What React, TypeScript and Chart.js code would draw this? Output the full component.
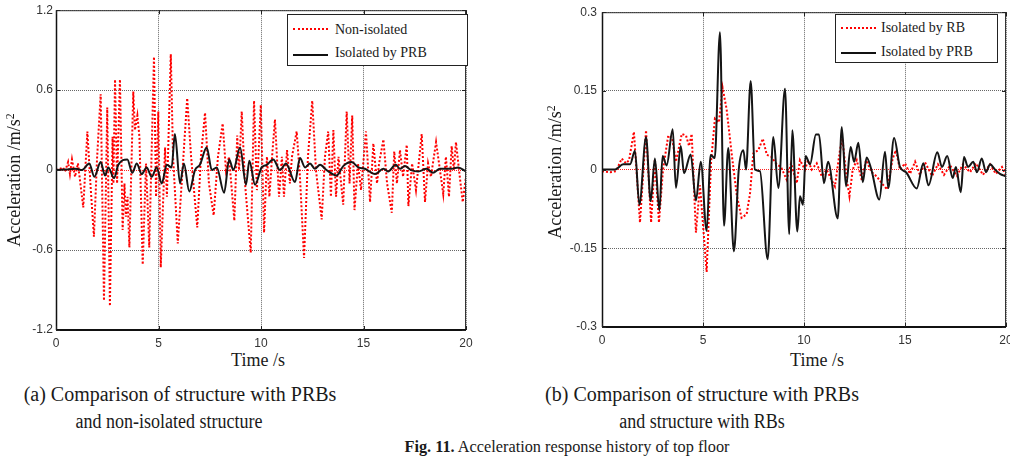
import React, { useEffect, useRef } from "react";
import { Chart, registerables } from "chart.js";

Chart.register(...registerables);

// ---------- data ----------
const timeTicks = [0, 5, 10, 15, 20];
const timeTickLabels = ["0", "5", "10", "15", "20"];

const accTicksA = [-1.2, -0.6, 0, 0.6, 1.2];
const accTickLabelsA = ["-1.2", "-0.6", "0", "0.6", "1.2"];
const accTicksB = [-0.3, -0.15, 0, 0.15, 0.3];
const accTickLabelsB = ["-0.3", "-0.15", "0", "0.15", "0.3"];

// (a) Non-isolated
const nonIsoT = [0, 0.2, 0.34, 0.44, 0.59, 0.68, 0.78, 0.93, 1.07, 1.33, 1.53, 1.69, 1.85, 2.0, 2.18, 2.34, 2.5, 2.63, 2.76, 2.8, 2.88, 2.98, 3.12, 3.25, 3.34, 3.41, 3.49, 3.58, 3.77, 3.85, 3.97, 4.07, 4.23, 4.39, 4.55, 4.78, 4.88, 4.99, 5.11, 5.32, 5.41, 5.6, 5.71, 5.94, 6.4, 6.59, 6.89, 7.07, 7.27, 7.46, 7.69, 7.9, 8.13, 8.29, 8.44, 8.7, 8.84, 8.93, 9.06, 9.22, 9.5, 9.66, 9.8, 9.99, 10.15, 10.29, 10.41, 10.54, 10.68, 10.88, 11.02, 11.12, 11.27, 11.41, 11.51, 11.74, 11.9, 12.1, 12.29, 12.5, 12.68, 12.96, 13.12, 13.28, 13.41, 13.53, 13.66, 13.78, 14.01, 14.18, 14.32, 14.45, 14.56, 14.73, 14.88, 15.12, 15.32, 15.48, 15.66, 15.76, 15.97, 16.15, 16.38, 16.5, 16.63, 16.78, 16.93, 17.11, 17.19, 17.37, 17.56, 17.84, 18.0, 18.15, 18.29, 18.54, 18.73, 18.89, 19.02, 19.17, 19.3, 19.41, 19.51, 19.66, 19.84, 20.0];
const nonIsoV = [0, 0.01, 0.02, -0.01, 0.06, -0.03, 0.08, -0.05, 0.05, -0.28, 0.29, -0.13, -0.5, 0.08, 0.57, -0.98, 0.47, -1.02, 0.25, -0.1, 0.68, -0.1, 0.68, -0.45, -0.1, -0.35, -0.2, -0.58, 0.59, 0.3, 0.41, 0.25, -0.71, 0.05, -0.58, 0.85, -0.2, 0.44, -0.73, 0.17, -0.2, 0.87, 0.1, -0.55, 0.54, 0.1, -0.43, 0.1, 0.43, -0.1, -0.34, 0.1, 0.35, 0, 0.1, -0.38, 0.26, 0, 0.44, -0.1, -0.62, 0.52, -0.15, 0.49, -0.47, 0.1, -0.2, 0.1, 0.38, -0.2, 0.1, -0.2, 0.15, -0.1, 0.1, 0.29, -0.05, -0.66, 0.1, 0.52, 0, -0.37, 0.1, 0.29, -0.2, 0.3, -0.2, 0.1, -0.26, 0.44, -0.1, 0.41, -0.3, 0.05, -0.15, 0.29, -0.24, 0.2, -0.1, 0.05, 0.23, -0.1, -0.32, 0.14, -0.1, 0.15, -0.05, 0.19, -0.27, 0.05, -0.15, 0.27, -0.24, 0.05, -0.05, 0.21, 0, -0.18, 0.1, -0.2, 0.18, 0, 0.21, 0, -0.24, -0.05];

// (a) Isolated by PRB
const prbAT = [0, 0.49, 0.98, 1.27, 1.62, 1.87, 2.18, 2.39, 2.55, 2.83, 3.04, 3.48, 3.72, 3.94, 4.18, 4.42, 4.67, 4.91, 5.16, 5.4, 5.64, 5.8, 6.05, 6.24, 6.5, 6.78, 7.02, 7.35, 7.6, 7.84, 8.2, 8.45, 8.65, 8.98, 9.27, 9.43, 9.71, 10.03, 10.28, 10.6, 10.93, 11.22, 11.66, 11.9, 12.15, 12.39, 12.63, 12.88, 13.2, 13.69, 14.01, 14.42, 14.75, 15.07, 15.56, 15.97, 16.2, 16.57, 16.78, 17.02, 17.32, 17.67, 18.08, 18.39, 18.73, 19.3, 19.62, 20];
const prbAV = [0, 0.005, 0.01, 0, 0.05, -0.05, 0.06, -0.04, 0.02, -0.06, 0.04, 0.08, -0.02, 0.05, -0.03, 0.02, -0.05, 0.02, -0.1, 0.04, 0.02, 0.27, -0.1, 0.05, -0.16, 0, 0.04, 0.17, 0, 0.02, -0.17, 0.08, 0, 0.17, -0.11, 0.07, -0.11, 0.02, 0.04, 0.08, 0, 0.05, -0.09, 0.09, 0.02, 0.05, 0.01, 0.04, 0, -0.04, 0.03, 0.06, 0.02, 0.01, -0.03, 0.01, -0.01, 0.04, 0.01, 0.03, 0, -0.01, 0.01, -0.02, 0.01, 0.01, 0.02, -0.01];

// (b) Isolated by RB
const rbT = [0, 0.4, 0.69, 0.98, 1.19, 1.34, 1.58, 1.88, 2.18, 2.43, 2.62, 2.82, 3.02, 3.28, 3.47, 3.66, 3.95, 4.16, 4.31, 4.44, 4.65, 4.85, 5.18, 5.4, 5.59, 5.79, 5.97, 6.17, 6.42, 6.67, 6.91, 7.16, 7.33, 7.49, 7.74, 7.96, 8.16, 8.37, 8.65, 8.86, 9.14, 9.36, 9.64, 9.8, 10.05, 10.2, 10.38, 10.63, 10.88, 11.12, 11.37, 11.53, 11.78, 11.9, 12.12, 12.25, 12.41, 12.61, 12.86, 13.07, 13.35, 13.6, 13.85, 14.12, 14.39, 14.55, 14.75, 15, 15.25, 15.5, 15.74, 15.99, 16.34, 16.63, 16.93, 17.23, 17.57, 17.87, 18.22, 18.51, 18.86, 19.21, 19.5, 19.8, 20];
const rbV = [-0.003, -0.005, -0.003, 0.021, 0.012, 0.018, 0.072, -0.101, 0.075, -0.101, 0.02, -0.101, 0, 0.065, 0.06, 0.015, 0.068, 0.065, 0.045, 0.068, -0.12, -0.03, -0.195, 0.015, 0.097, 0.09, 0.156, 0.115, 0.03, -0.048, -0.092, -0.085, -0.045, 0.031, 0.037, 0.059, 0.028, 0.025, 0.01, 0.005, -0.019, 0.012, -0.026, 0.018, 0, 0.018, 0, 0.012, -0.013, 0, -0.02, -0.032, 0.037, 0.059, -0.02, -0.051, 0, 0.018, -0.02, 0.018, -0.005, -0.013, -0.026, -0.038, 0.021, 0.037, 0, 0.012, -0.008, 0.015, -0.01, 0.014, -0.012, 0.01, -0.01, 0.008, -0.012, 0.01, -0.005, 0.012, -0.01, 0.01, -0.008, 0.005, -0.012];

// (b) Isolated by PRB
const prbBT = [0, 0.64, 1.05, 1.39, 1.63, 1.85, 2.18, 2.41, 2.62, 2.84, 3.0, 3.2, 3.5, 3.66, 3.9, 4.06, 4.39, 4.65, 4.89, 5.18, 5.38, 5.58, 5.84, 6.04, 6.25, 6.53, 6.77, 7.0, 7.13, 7.36, 7.57, 7.82, 8.2, 8.48, 8.73, 9.06, 9.27, 9.42, 9.67, 9.8, 9.95, 10.08, 10.3, 10.59, 10.74, 10.99, 11.19, 11.67, 11.87, 12.08, 12.31, 12.48, 12.69, 12.91, 13.1, 13.32, 13.73, 14.01, 14.17, 14.46, 14.75, 15.05, 15.58, 15.91, 16.16, 16.6, 16.83, 17.09, 17.36, 17.52, 17.76, 17.92, 18.12, 18.38, 18.56, 18.8, 19.01, 19.21, 19.46, 19.7, 20];
const prbBV = [0, 0, 0.01, 0.01, 0.036, -0.067, 0.062, -0.06, 0.021, -0.078, 0.026, 0.008, 0.077, -0.035, 0.045, -0.007, 0.029, -0.059, 0.015, -0.117, 0.028, 0.022, 0.262, -0.107, 0.041, -0.156, 0, 0.037, 0, 0.169, 0, -0.003, -0.171, 0.062, -0.035, 0.154, -0.123, 0.075, -0.118, -0.051, -0.067, 0.026, 0.01, 0.067, 0.067, -0.026, 0.015, -0.093, 0.081, -0.032, 0.043, 0.015, 0.051, -0.024, 0.023, 0.002, -0.057, 0.034, -0.035, 0.06, 0.005, -0.005, -0.036, 0.012, -0.03, 0.033, 0.005, 0.026, -0.016, 0.005, -0.043, 0.024, 0.005, 0.015, -0.005, 0.021, -0.005, 0.01, 0, -0.008, -0.013];

// ---------- helpers ----------
type Series = { t: number[]; v: number[]; color: string; width: number; dash: number[]; smooth: boolean; order: number };

const framePlugin = {
  id: "matlabFrame",
  afterDatasetsDraw(chart: any) {
    const { ctx, chartArea: a, scales } = chart;
    const line = (x1: number, y1: number, x2: number, y2: number) => {
      ctx.beginPath();
      ctx.moveTo(x1, y1);
      ctx.lineTo(x2, y2);
      ctx.stroke();
    };
    ctx.save();
    ctx.setLineDash([]);
    ctx.strokeStyle = "#333";
    ctx.lineWidth = 1;
    ctx.strokeRect(a.left + 0.5, a.top + 0.5, a.right - a.left - 1, a.bottom - a.top - 1);
    ctx.strokeStyle = "#111";
    ctx.lineWidth = 2;
    line(a.left, a.bottom, a.right, a.bottom);
    ctx.lineWidth = 1.5;
    line(a.left + 0.5, a.top, a.left + 0.5, a.bottom);
    ctx.lineWidth = 1;
    ctx.strokeStyle = "#222";
    scales.x.ticks.forEach((t: any) => {
      const x = Math.round(scales.x.getPixelForValue(t.value)) + 0.5;
      line(x, a.bottom, x, a.bottom - 4);
      line(x, a.top, x, a.top + 4);
    });
    scales.y.ticks.forEach((t: any) => {
      const y = Math.round(scales.y.getPixelForValue(t.value)) + 0.5;
      line(a.left, y, a.left + 4, y);
      line(a.right, y, a.right - 4, y);
    });
    ctx.restore();
  },
};

function Panel(props: {
  left: number;
  width: number;
  height: number;
  area: { top: number; bottom: number; left: number; right: number };
  series: Series[];
  yTicks: number[];
  yLabels: string[];
  yPad: number;
}) {
  const ref = useRef<HTMLCanvasElement | null>(null);
  useEffect(() => {
    const { width, height, area, series, yTicks, yLabels, yPad } = props;
    const tickFont = { family: "'Liberation Sans', Arial, sans-serif", size: 12 };
    const chart = new Chart(ref.current as HTMLCanvasElement, {
      type: "line",
      data: {
        datasets: series.map((s) => ({
          data: s.t.map((t, i) => ({ x: t, y: s.v[i] })),
          borderColor: s.color,
          borderWidth: s.width,
          borderDash: s.dash,
          pointRadius: 0,
          fill: false,
          tension: s.smooth ? 0.4 : 0,
          cubicInterpolationMode: s.smooth ? "monotone" : "default",
          order: s.order,
        })),
      },
      options: {
        responsive: false,
        animation: false,
        devicePixelRatio: 1,
        layout: { padding: { left: 0, top: area.top, right: width - area.right, bottom: 0 } },
        plugins: { legend: { display: false }, tooltip: { enabled: false } },
        scales: {
          x: {
            type: "linear",
            min: timeTicks[0],
            max: timeTicks[timeTicks.length - 1],
            afterBuildTicks: (s: any) => {
              s.ticks = timeTicks.map((v) => ({ value: v }));
            },
            afterFit: (s: any) => {
              s.height = height - area.bottom;
            },
            grid: { color: "#666", lineWidth: 1, drawTicks: false },
            border: { display: false, dash: [1, 1] },
            ticks: {
              padding: 6,
              autoSkip: false,
              maxRotation: 0,
              color: "#333",
              font: tickFont,
              callback: (_v: any, i: number) => timeTickLabels[i],
            },
          },
          y: {
            type: "linear",
            min: yTicks[0],
            max: yTicks[yTicks.length - 1],
            afterBuildTicks: (s: any) => {
              s.ticks = yTicks.map((v) => ({ value: v }));
            },
            afterFit: (s: any) => {
              s.width = area.left;
            },
            grid: {
              color: (c: any) => (c.tick && c.tick.value === 0 ? "#ff2020" : "#666"),
              lineWidth: 1,
              drawTicks: false,
            },
            border: { display: false, dash: [1, 1] },
            ticks: {
              padding: yPad,
              autoSkip: false,
              color: "#333",
              font: tickFont,
              callback: (_v: any, i: number) => yLabels[i],
            },
          },
        },
      } as any,
      plugins: [framePlugin],
    });
    return () => chart.destroy();
  }, []);
  return (
    <canvas
      ref={ref}
      width={props.width}
      height={props.height}
      style={{ position: "absolute", left: props.left, top: 0, width: props.width, height: props.height }}
    />
  );
}

const serif = "'Liberation Serif', 'Times New Roman', serif";

function Text(props: { cx: number; top: number; size: number; squeeze?: number; children: any }) {
  return (
    <div
      style={{
        position: "absolute",
        left: props.cx - 300,
        top: props.top,
        width: 600,
        textAlign: "center",
        fontSize: props.size,
        lineHeight: 1,
        whiteSpace: "nowrap",
        fontFamily: serif,
        color: "#1a1a1a",
        transform: props.squeeze ? `scaleX(${props.squeeze})` : undefined,
      }}
    >
      {props.children}
    </div>
  );
}

function YTitle(props: { cx: number; cy: number; size: number }) {
  return (
    <div
      style={{
        position: "absolute",
        left: props.cx - 150,
        top: props.cy - props.size / 2,
        width: 300,
        height: props.size,
        textAlign: "center",
        fontSize: props.size,
        lineHeight: 1,
        whiteSpace: "nowrap",
        fontFamily: serif,
        color: "#1a1a1a",
        transform: "rotate(-90deg)",
      }}
    >
      Acceleration /m/s<sup style={{ fontSize: "0.65em", verticalAlign: "0.5em", lineHeight: 0 }}>2</sup>
    </div>
  );
}

function Legend(props: { left: number; top: number; width: number; height: number; items: { label: string; dotted: boolean; y: number; ty: number }[]; sampleX: number; textX: number }) {
  return (
    <div
      style={{
        position: "absolute",
        left: props.left,
        top: props.top,
        width: props.width,
        height: props.height,
        border: "1px solid #222",
        background: "#fff",
        boxSizing: "border-box",
        fontFamily: serif,
        fontSize: 14,
        color: "#1a1a1a",
      }}
    >
      {props.items.map((it, i) => (
        <React.Fragment key={i}>
          <div
            style={{
              position: "absolute",
              left: props.sampleX,
              top: it.y - 1,
              width: 35,
              height: 0,
              borderTop: it.dotted ? "2px dotted #ff0000" : "2px solid #111",
            }}
          />
          <div style={{ position: "absolute", left: props.textX, top: it.ty, lineHeight: 1, whiteSpace: "nowrap" }}>{it.label}</div>
        </React.Fragment>
      ))}
    </div>
  );
}

export default function App() {
  const seriesA: Series[] = [
    { t: nonIsoT, v: nonIsoV, color: "#ff0000", width: 2, dash: [2, 2], smooth: false, order: 1 },
    { t: prbAT, v: prbAV, color: "#151515", width: 2, dash: [], smooth: true, order: 0 },
  ];
  const seriesB: Series[] = [
    { t: rbT, v: rbV, color: "#ff0000", width: 2, dash: [2, 2], smooth: false, order: 1 },
    { t: prbBT, v: prbBV, color: "#151515", width: 2, dash: [], smooth: true, order: 0 },
  ];
  return (
    <div
      style={{
        position: "absolute",
        left: 0,
        top: 0,
        width: 1010,
        height: 461,
        overflow: "hidden",
        background: "#fff",
      }}
    >
      <Panel left={0} width={480} height={350} area={{ top: 9, bottom: 330, left: 56, right: 466 }} series={seriesA} yTicks={accTicksA} yLabels={accTickLabelsA} yPad={3} />
      <Panel left={540} width={480} height={350} area={{ top: 9, bottom: 327, left: 62, right: 466 }} series={seriesB} yTicks={accTicksB} yLabels={accTickLabelsB} yPad={5} />

      <Legend
        left={287}
        top={14}
        width={181}
        height={52}
        sampleX={5}
        textX={47}
        items={[
          { label: "Non-isolated", dotted: true, y: 14, ty: 8 },
          { label: "Isolated by PRB", dotted: false, y: 40, ty: 31 },
        ]}
      />
      <Legend
        left={835}
        top={14}
        width={163}
        height={49}
        sampleX={5}
        textX={45}
        items={[
          { label: "Isolated by RB", dotted: true, y: 13, ty: 6 },
          { label: "Isolated by PRB", dotted: false, y: 38, ty: 30 },
        ]}
      />

      <YTitle cx={14} cy={180} size={18} />
      <YTitle cx={555} cy={172} size={18} />

      <Text cx={258} top={351} size={18}>Time /s</Text>
      <Text cx={817} top={351} size={18}>Time /s</Text>

      <Text cx={180} top={384} size={20}>(a) Comparison of structure with PRBs</Text>
      <Text cx={169} top={411} size={20} squeeze={0.9}>and non-isolated structure</Text>
      <Text cx={702} top={384} size={20}>(b) Comparison of structure with PRBs</Text>
      <Text cx={702} top={411} size={20} squeeze={0.9}>and structure with RBs</Text>
      <Text cx={567} top={439} size={16.3}>
        <b>Fig. 11.</b> Acceleration response history of top floor
      </Text>
    </div>
  );
}
